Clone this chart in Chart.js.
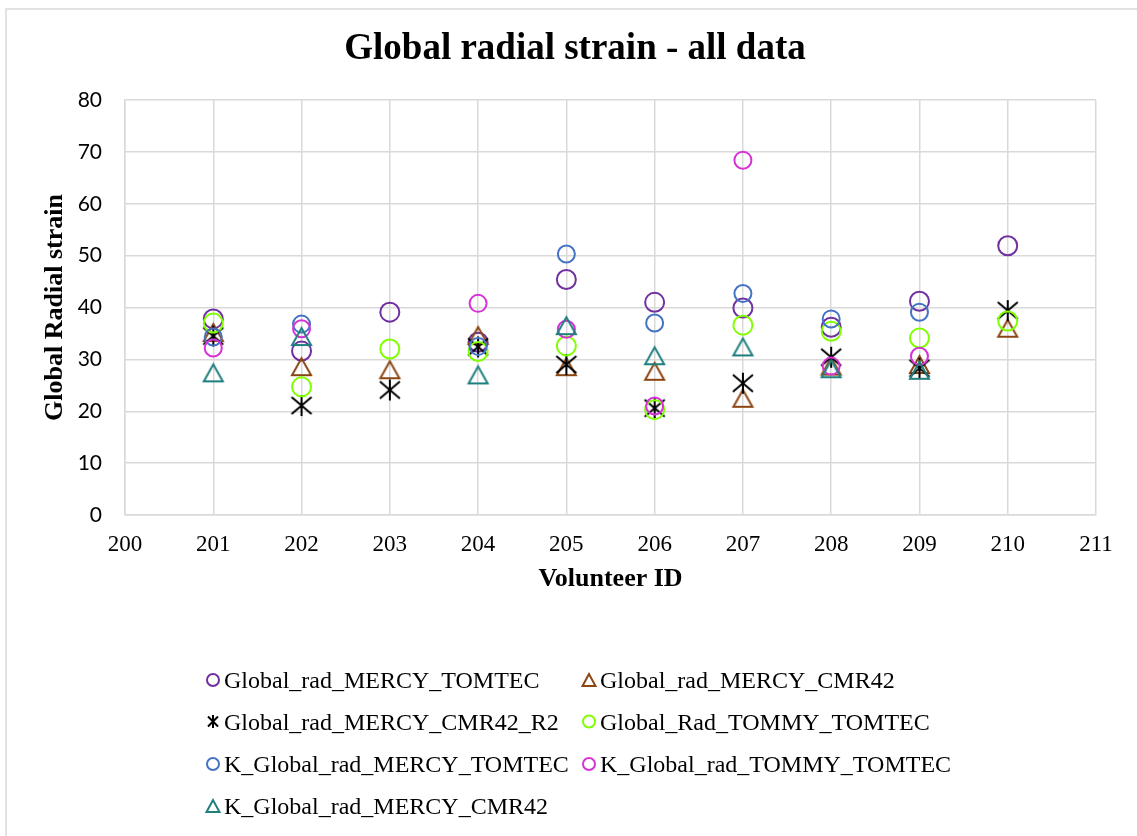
<!DOCTYPE html>
<html>
<head>
<meta charset="utf-8">
<title>Global radial strain - all data</title>
<script src="https://cdn.jsdelivr.net/npm/chart.js@4.4.0/dist/chart.umd.min.js"></script>
<style>
  body { margin: 0; background: #fff; }
  canvas { display: block; }
</style>
</head>
<body>
<canvas id="grafico" width="1137" height="836"></canvas>
<script>
// volunteer ids and values (null = no point)
const volunteers = [201, 202, 203, 204, 205, 206, 207, 208, 209, 210];

const mercyTomtec     = [37.8, 31.6, 39.1, 33.3, 45.4, 41.0, 39.9, 36.2, 41.2, 51.9];
const mercyCmr42      = [35.2, 28.6, 28.0, 34.6, 28.6, 27.7, 22.5, 28.7, 29.0, 36.0];
const mercyCmr42R2    = [34.5, 21.1, 24.1, 32.4, 29.0, 20.6, 25.4, 30.4, 28.3, 39.4];
const tommyTomtec     = [37.0, 24.7, 32.0, 31.5, 32.6, 20.3, 36.6, 35.4, 34.1, 37.4];
const kMercyTomtec    = [34.3, 36.8, null, 32.5, 50.3, 37.0, 42.7, 37.8, 39.1, null];
const kTommyTomtec    = [32.2, 35.9, null, 40.8, 35.8, 21.0, 68.4, 28.7, 30.6, null];
const kMercyCmr42     = [27.4, 34.4, null, 27.0, 36.5, 30.7, 32.4, 28.2, 27.9, null];

const xTicks = { min: 200, max: 211, step: 1 };
const yTicks = { min: 0, max: 80, step: 10 };

const chartTitle = 'Global radial strain - all data';
const SERIF = '"Liberation Serif", "Times New Roman", serif';
const GRID = '#d9d9d9';

// marker pictures (Excel style triangle and star)
const fazTriangulo = (cor, w, h, lw) => {
  const c = document.createElement('canvas');
  c.width = w + 4; c.height = h + 4;
  const g = c.getContext('2d');
  g.strokeStyle = cor; g.lineWidth = lw; g.lineJoin = 'miter';
  g.beginPath();
  g.moveTo(c.width / 2, 2 + lw / 2);
  g.lineTo(2 + lw / 2, 2 + h - lw / 2);
  g.lineTo(2 + w - lw / 2, 2 + h - lw / 2);
  g.closePath();
  g.stroke();
  return c;
};

const fazEstrela = (cor, w, h, lw) => {
  const c = document.createElement('canvas');
  c.width = w + 4; c.height = h + 4;
  const g = c.getContext('2d');
  const cx = c.width / 2, cy = c.height / 2;
  const dx = w / 2 - 1, dy = h / 2 - 2;
  g.strokeStyle = cor; g.lineWidth = lw;
  g.beginPath();
  g.moveTo(cx - dx, cy - dy); g.lineTo(cx + dx, cy + dy);
  g.moveTo(cx + dx, cy - dy); g.lineTo(cx - dx, cy + dy);
  g.moveTo(cx, cy - h / 2); g.lineTo(cx, cy + h / 2);
  g.stroke();
  return c;
};

const series = [
  { label: 'Global_rad_MERCY_TOMTEC',    values: mercyTomtec,  color: '#7030a0', shape: 'circle', r: 9.5 },
  { label: 'Global_rad_MERCY_CMR42',     values: mercyCmr42,   color: '#8b4513', shape: 'triangle' },
  { label: 'Global_rad_MERCY_CMR42_R2',  values: mercyCmr42R2, color: '#000000', shape: 'star' },
  { label: 'Global_Rad_TOMMY_TOMTEC',    values: tommyTomtec,  color: '#80ff00', shape: 'circle', r: 9.5 },
  { label: 'K_Global_rad_MERCY_TOMTEC',  values: kMercyTomtec, color: '#4472c4', shape: 'circle', r: 8.5 },
  { label: 'K_Global_rad_TOMMY_TOMTEC',  values: kTommyTomtec, color: '#d633d6', shape: 'circle', r: 8.5 },
  { label: 'K_Global_rad_MERCY_CMR42',   values: kMercyCmr42,  color: '#1f7f7f', shape: 'triangle' }
];

const estiloPonto = s => {
  if (s.shape === 'triangle') return fazTriangulo(s.color, 21, 19, 2);
  if (s.shape === 'star') return fazEstrela(s.color, 22, 21, 2);
  return 'circle';
};

const datasets = series.map((s, i) => ({
  label: s.label,
  data: volunteers
    .map((v, k) => ({ x: v, y: s.values[k] }))
    .filter(p => p.y !== null),
  pointStyle: estiloPonto(s),
  pointRadius: s.r || 9,
  pointBorderWidth: 2,
  borderColor: s.color,
  backgroundColor: 'rgba(0,0,0,0)',
  showLine: false,
  order: series.length - i
}));

// title, legend in two columns like the original, plus the outer frame
const legendaPlugin = {
  id: 'legenda',
  beforeDraw(chart) {
    const ctx = chart.ctx;
    ctx.save();
    ctx.fillStyle = '#fff';
    ctx.fillRect(0, 0, chart.width, chart.height);
    ctx.strokeStyle = GRID;
    ctx.lineWidth = 1.5;
    ctx.beginPath();
    ctx.moveTo(6, chart.height);
    ctx.lineTo(6, 9);
    ctx.lineTo(chart.width, 9);
    ctx.stroke();
    ctx.restore();
  },
  afterDraw(chart) {
    const ctx = chart.ctx;
    ctx.save();
    ctx.fillStyle = '#000';
    ctx.font = 'bold 37px ' + SERIF;
    ctx.textAlign = 'center';
    ctx.textBaseline = 'alphabetic';
    ctx.fillText(chartTitle, 575, 59);

    const cols = [213, 589];
    const rows = [680, 721.5, 764, 806];
    ctx.textAlign = 'left';
    ctx.font = '24px ' + SERIF;
    series.forEach((s, i) => {
      const x = cols[i % 2];
      const y = rows[Math.floor(i / 2)];
      ctx.strokeStyle = s.color;
      ctx.lineWidth = 2;
      ctx.beginPath();
      if (s.shape === 'circle') {
        ctx.arc(x, y, 6, 0, Math.PI * 2);
      } else if (s.shape === 'triangle') {
        ctx.moveTo(x, y - 6);
        ctx.lineTo(x - 6.5, y + 6);
        ctx.lineTo(x + 6.5, y + 6);
        ctx.closePath();
      } else {
        ctx.moveTo(x - 5, y - 5); ctx.lineTo(x + 5, y + 5);
        ctx.moveTo(x + 5, y - 5); ctx.lineTo(x - 5, y + 5);
        ctx.moveTo(x, y - 6.5); ctx.lineTo(x, y + 6.5);
      }
      ctx.stroke();
      ctx.fillText(s.label, x + 11, y + 8);
    });
    ctx.restore();
  }
};

new Chart(document.getElementById('grafico').getContext('2d'), {
  type: 'scatter',
  data: { datasets },
  plugins: [legendaPlugin],
  options: {
    responsive: false,
    animation: false,
    events: [],
    layout: { padding: { top: 100, left: 10, right: 41, bottom: 236 } },
    plugins: {
      legend: { display: false },
      tooltip: { enabled: false },
      title: { display: false }
    },
    scales: {
      x: {
        type: 'linear',
        min: xTicks.min,
        max: xTicks.max,
        afterFit: s => { s.height = 85; },
        ticks: {
          stepSize: xTicks.step,
          color: '#000',
          padding: 16,
          font: { family: SERIF, size: 23 }
        },
        grid: { color: GRID, lineWidth: 1.5, drawTicks: false },
        border: { color: GRID, width: 1.5 },
        title: {
          display: true,
          text: 'Volunteer ID',
          color: '#000',
          font: { family: SERIF, size: 26, weight: 'bold' },
          padding: { top: 0, bottom: 5 }
        }
      },
      y: {
        min: yTicks.min,
        max: yTicks.max,
        afterFit: s => { s.width = 115; },
        ticks: {
          stepSize: yTicks.step,
          color: '#000',
          padding: 23,
          font: { family: 'Lato, "Open Sans", sans-serif', size: 21 }
        },
        grid: { color: GRID, lineWidth: 1.5, drawTicks: false },
        border: { color: GRID, width: 1.5 },
        title: {
          display: true,
          text: 'Global Radial strain',
          color: '#000',
          font: { family: SERIF, size: 26, weight: 'bold' },
          padding: { top: 30, bottom: 0 }
        }
      }
    }
  }
});
</script>
</body>
</html>
